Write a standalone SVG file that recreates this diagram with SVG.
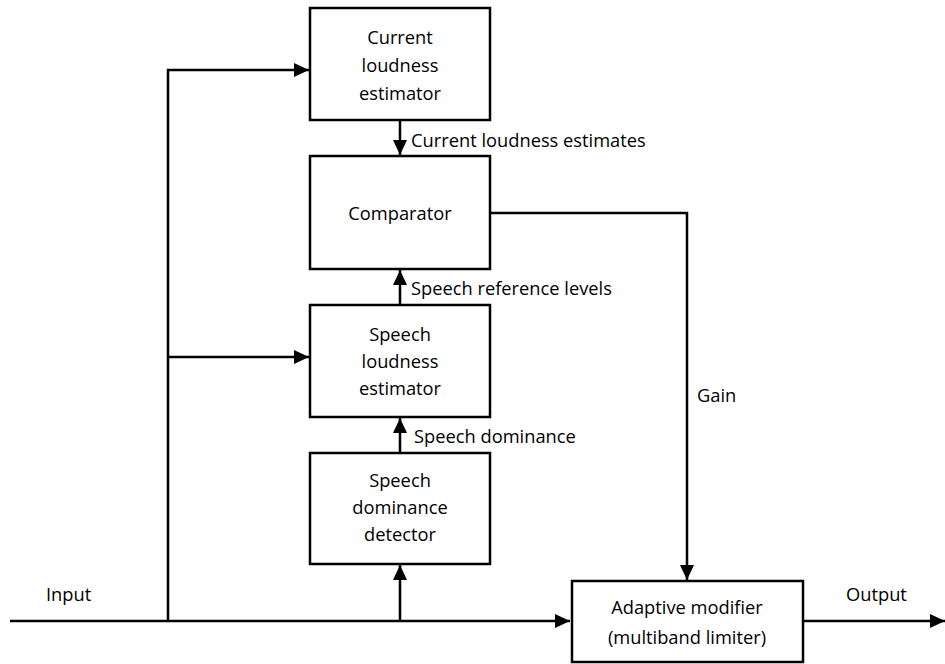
<svg xmlns="http://www.w3.org/2000/svg" width="945" height="664" viewBox="0 0 945 664">
<style>
.box{fill:#fff;stroke:#000;stroke-width:2.5}
.ln{fill:none;stroke:#000;stroke-width:2.5}
text{font-family:"Open Sans","Liberation Sans",sans-serif;font-size:18.3px;fill:#000}
.c{text-anchor:middle}
</style>
<defs>
<marker id="ah" markerWidth="15" markerHeight="14" refX="15" refY="7" orient="auto" markerUnits="userSpaceOnUse">
<path d="M0,0 L15,7 L0,14 Z" fill="#000"/>
</marker>
</defs>
<g id="connectors">
<path class="ln" d="M10,621 H570" marker-end="url(#ah)"/>
<path class="ln" d="M168,621 V70 H309" marker-end="url(#ah)"/>
<path class="ln" d="M168,357 H309" marker-end="url(#ah)"/>
<path class="ln" d="M400,621 V565" marker-end="url(#ah)"/>
<path class="ln" d="M400,453 V418" marker-end="url(#ah)"/>
<path class="ln" d="M400,305 V270" marker-end="url(#ah)"/>
<path class="ln" d="M400,120 V155" marker-end="url(#ah)"/>
<path class="ln" d="M490,213 H687 V580" marker-end="url(#ah)"/>
<path class="ln" d="M803,621 H945" marker-end="url(#ah)"/>
<text x="411" y="147">Current loudness estimates</text>
<text x="411" y="295">Speech reference levels</text>
<text x="414" y="443">Speech dominance</text>
<text x="697" y="402">Gain</text>
<text x="46" y="601">Input</text>
<text x="846" y="601">Output</text>
</g>
<g id="current-loudness-estimator">
<rect class="box" x="310" y="8" width="180" height="112"/>
<text class="c" x="400" y="44">Current</text>
<text class="c" x="400" y="72">loudness</text>
<text class="c" x="400" y="100">estimator</text>
</g>
<g id="comparator">
<rect class="box" x="310" y="156" width="180" height="113"/>
<text class="c" x="400" y="220">Comparator</text>
</g>
<g id="speech-loudness-estimator">
<rect class="box" x="310" y="305" width="180" height="112"/>
<text class="c" x="400" y="341">Speech</text>
<text class="c" x="400" y="368">loudness</text>
<text class="c" x="400" y="395">estimator</text>
</g>
<g id="speech-dominance-detector">
<rect class="box" x="310" y="453" width="180" height="111"/>
<text class="c" x="400" y="487">Speech</text>
<text class="c" x="400" y="514">dominance</text>
<text class="c" x="400" y="541">detector</text>
</g>
<g id="adaptive-modifier">
<rect class="box" x="572" y="581" width="231" height="81"/>
<text class="c" x="687" y="614">Adaptive modifier</text>
<text class="c" x="687" y="644">(multiband limiter)</text>
</g>
</svg>
